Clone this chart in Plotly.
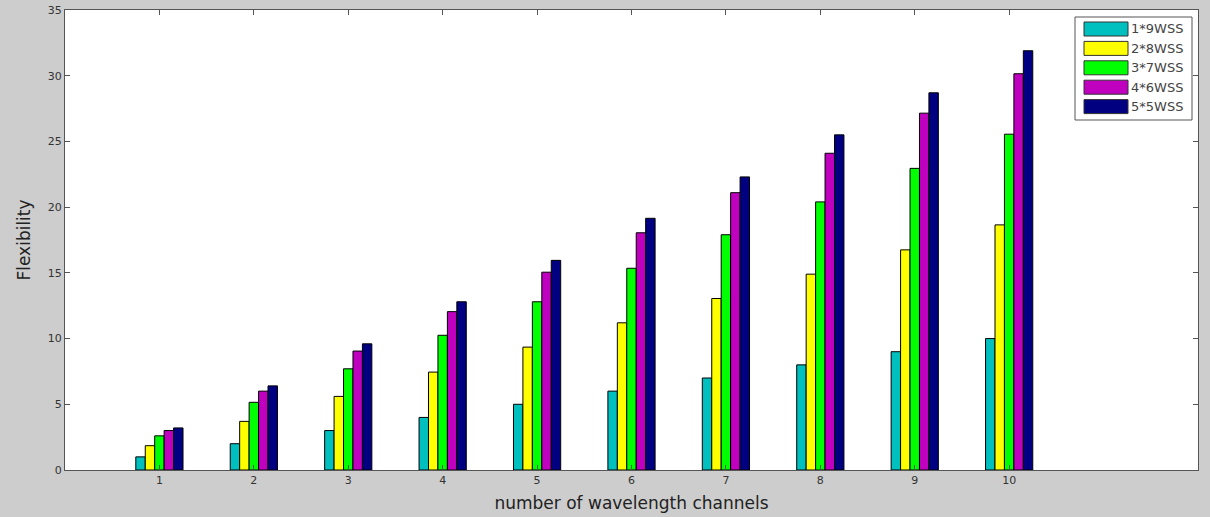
import plotly.graph_objects as go

channels = [1, 2, 3, 4, 5, 6, 7, 8, 9, 10]
series_names = ["1*9WSS", "2*8WSS", "3*7WSS", "4*6WSS", "5*5WSS"]
wss_1x9 = [1.0, 2.0, 3.0, 4.0, 5.0, 6.0, 7.0, 8.0, 9.0, 10.0]
wss_2x8 = [1.85, 3.7, 5.6, 7.45, 9.35, 11.2, 13.05, 14.9, 16.75, 18.65]
wss_3x7 = [2.6, 5.15, 7.7, 10.25, 12.8, 15.35, 17.9, 20.4, 22.95, 25.55]
wss_4x6 = [3.0, 6.0, 9.05, 12.05, 15.05, 18.05, 21.1, 24.1, 27.15, 30.15]
wss_5x5 = [3.2, 6.4, 9.6, 12.8, 15.95, 19.15, 22.3, 25.5, 28.7, 31.9]
colors = ["#00bfbf", "#ffff00", "#00ff00", "#bf00bf", "#000080"]

W, H = 1210, 517
ML, MR, MT, MB = 65, 12, 10, 47
PW, PH = W - ML - MR, H - MT - MB

def px_x(x):
    return (x - ML) / PW

def px_y(y):
    return 1 - (y - MT) / PH

fig = go.Figure()
for name, vals, c in zip(series_names, [wss_1x9, wss_2x8, wss_3x7, wss_4x6, wss_5x5], colors):
    fig.add_trace(go.Bar(x=channels, y=vals, name=name, showlegend=False,
                         marker=dict(color=c, line=dict(color="black", width=1))))

# MATLAB-style legend box with wide colour swatches
shapes = [dict(type="rect", xref="paper", yref="paper",
               x0=px_x(1075), x1=px_x(1192), y0=px_y(120), y1=px_y(17),
               fillcolor="white", line=dict(color="#555555", width=1), layer="above")]
annotations = []
for i, (name, c) in enumerate(zip(series_names, colors)):
    cy = 29 + i * 19.4
    shapes.append(dict(type="rect", xref="paper", yref="paper",
                       x0=px_x(1084), x1=px_x(1128), y0=px_y(cy + 7), y1=px_y(cy - 7),
                       fillcolor=c, line=dict(color="#333333", width=1), layer="above"))
    annotations.append(dict(xref="paper", yref="paper", x=px_x(1129), y=px_y(cy),
                            xanchor="left", yanchor="middle", showarrow=False, text=name,
                            font=dict(family="DejaVu Sans, Arial", size=13, color="#444444")))

axis_common = dict(showline=True, linecolor="#555555", linewidth=1, mirror="ticks",
                   ticks="inside", ticklen=5, tickcolor="#555555", showgrid=False,
                   zeroline=False, automargin=False,
                   tickfont=dict(family="DejaVu Sans, Arial", size=11, color="#333333"))

fig.update_layout(
    width=W, height=H,
    paper_bgcolor="#cdcdcd", plot_bgcolor="white",
    margin=dict(l=ML, r=MR, t=MT, b=MB, autoexpand=False),
    barmode="group", bargap=0.5, bargroupgap=0,
    font=dict(family="DejaVu Sans, Arial", color="#222222"),
    xaxis=dict(range=[0, 12], tickvals=channels, ticktext=[str(c) for c in channels],
               title=dict(text="number of wavelength channels",
                          font=dict(size=17, color="#222222"), standoff=10),
               **axis_common),
    yaxis=dict(range=[0, 35], dtick=5,
               title=dict(text="Flexibility", font=dict(size=17, color="#222222"), standoff=12),
               **axis_common),
    shapes=shapes,
    annotations=annotations,
    showlegend=False,
)

fig.write_html("out.html", config={"displayModeBar": False},
               post_script="document.body.style.margin='0';")
